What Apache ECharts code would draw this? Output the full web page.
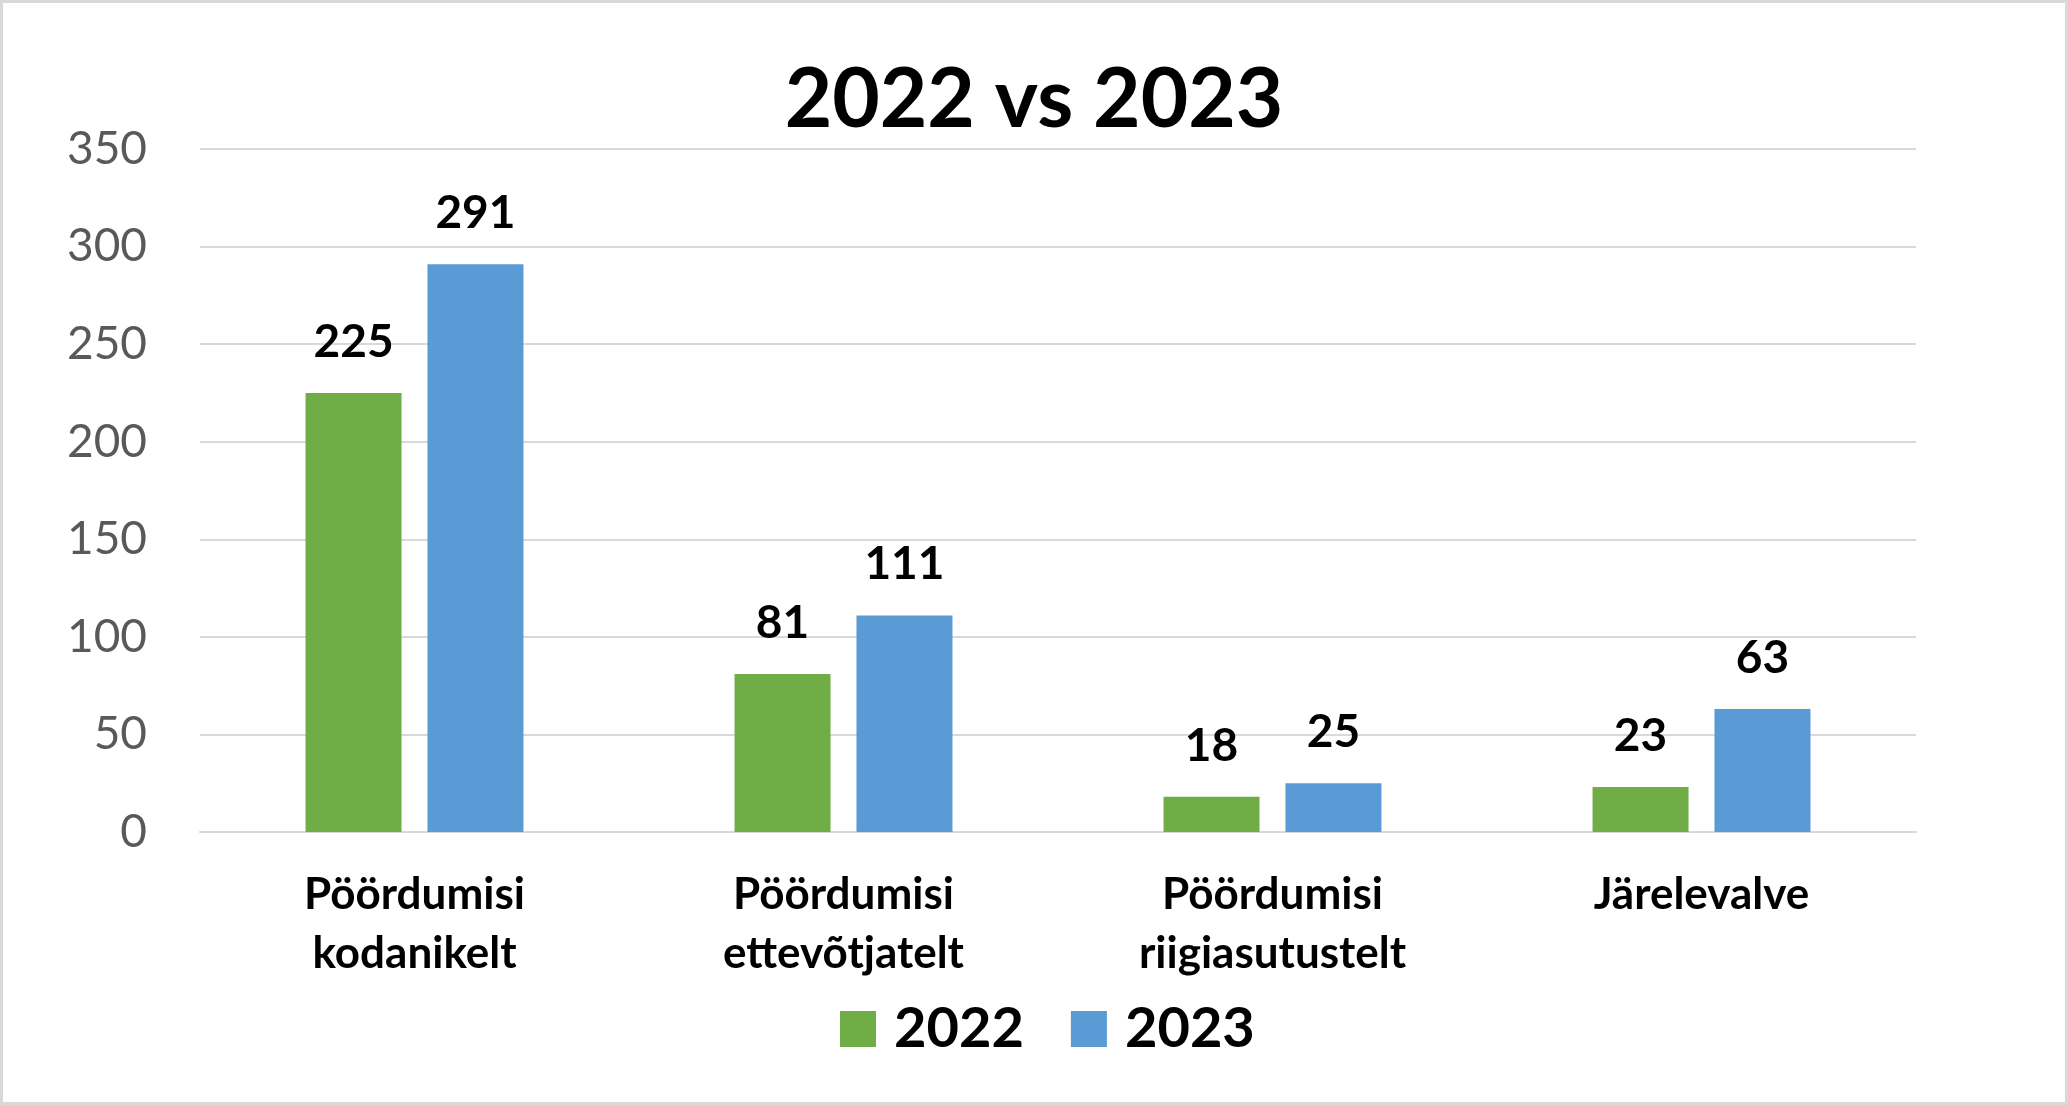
<!DOCTYPE html>
<html>
<head>
<meta charset="utf-8">
<script src="https://cdn.jsdelivr.net/npm/echarts@6/dist/echarts.min.js"></script>
<style>
  html, body { margin: 0; padding: 0; background: #fff; }
  #chart { width: 2068px; height: 1105px; }
</style>
</head>
<body>
<div id="chart"></div>
<script>
// data
const categories = ['Pöördumisi kodanikelt', 'Pöördumisi ettevõtjatelt', 'Pöördumisi riigiasutustelt', 'Järelevalve'];
const values2022 = [225, 81, 18, 23];
const values2023 = [291, 111, 25, 63];
const yTicks = { min: 0, max: 350, step: 50 };

const font = 'Lato, "Noto Sans", sans-serif';

const chart = echarts.init(document.getElementById('chart'));

const label = {
  show: true,
  position: 'top',
  distance: 28,
  color: '#000',
  fontFamily: font,
  fontWeight: 'bold',
  fontSize: 46
};

chart.setOption({
  backgroundColor: '#fff',
  animation: false,
  graphic: [{
    type: 'rect',
    shape: { x: 1.5, y: 1.5, width: 2065, height: 1102 },
    style: { fill: 'none', stroke: '#d9d9d9', lineWidth: 3 },
    silent: true
  }],
  title: {
    text: '2022 vs 2023',
    left: 'center',
    top: 55,
    textStyle: { fontFamily: font, fontWeight: 'bold', fontSize: 82, color: '#000' }
  },
  legend: {
    data: ['2022', '2023'],
    left: 835,
    top: 996,
    icon: 'rect',
    itemWidth: 36,
    itemHeight: 36,
    itemGap: 47,
    textStyle: { fontFamily: font, fontWeight: 'bold', fontSize: 56, color: '#000', padding: [0, 0, 0, 13] }
  },
  grid: { left: 200, right: 152, top: 149, bottom: 273, containLabel: false },
  xAxis: {
    type: 'category',
    data: categories,
    axisLine: { show: true, lineStyle: { color: '#d9d9d9', width: 2 } },
    axisTick: { show: false },
    axisLabel: {
      margin: 33,
      interval: 0,
      color: '#000',
      fontFamily: font,
      fontWeight: 'bold',
      fontSize: 44,
      lineHeight: 59,
      formatter: v => v.replace(' ', '\n')
    }
  },
  yAxis: {
    type: 'value',
    min: yTicks.min,
    max: yTicks.max,
    interval: yTicks.step,
    axisLine: { show: false },
    axisTick: { show: false },
    splitLine: { lineStyle: { color: '#d9d9d9', width: 2 } },
    axisLabel: { margin: 53, color: '#595959', fontFamily: font, fontSize: 46 }
  },
  series: [
    {
      name: '2022',
      type: 'bar',
      data: values2022,
      barWidth: 96,
      barGap: '27%',
      itemStyle: { color: '#70ad47' },
      label: label
    },
    {
      name: '2023',
      type: 'bar',
      data: values2023,
      barWidth: 96,
      barGap: '27%',
      itemStyle: { color: '#5b9bd5' },
      label: label
    }
  ]
});
</script>
</body>
</html>
